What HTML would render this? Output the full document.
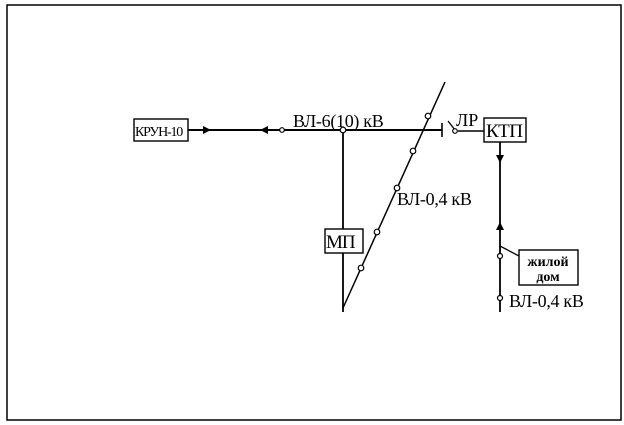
<!DOCTYPE html>
<html><head><meta charset="utf-8"><style>
html,body{margin:0;padding:0;background:#fff;width:624px;height:425px;overflow:hidden}
svg{display:block}
text{font-family:"Liberation Serif",serif;fill:#000}
</style></head><body>
<svg width="624" height="425" viewBox="0 0 624 425" xmlns="http://www.w3.org/2000/svg">
<rect x="7" y="5" width="614" height="415" fill="none" stroke="#000" stroke-width="1.5"/>
<g stroke="#000" fill="none" stroke-width="1.6">
<rect x="134" y="119" width="54" height="22" stroke-width="1.4"/>
<line x1="188" y1="130" x2="442" y2="130" stroke-width="2"/>
<line x1="442" y1="123" x2="442" y2="137"/>
<line x1="448" y1="121" x2="455" y2="130" stroke-width="1.3"/>
<line x1="458" y1="131" x2="484" y2="131"/>
<rect x="484" y="118" width="42" height="24" stroke-width="1.4"/>
<line x1="343" y1="130" x2="343" y2="312" stroke-width="1.8"/>
<line x1="343" y1="308" x2="445" y2="82" stroke-width="1.5"/>
<rect x="325" y="229" width="38" height="24" fill="#fff" stroke-width="1.4"/>
<line x1="500" y1="142" x2="500" y2="312" stroke-width="1.8"/>
<line x1="500" y1="246" x2="519" y2="256" stroke-width="1.3"/>
<rect x="519" y="250" width="59" height="35" stroke-width="1.4"/>
</g>
<g fill="#000">
<polygon points="203,126 211,130 203,134"/>
<polygon points="268,126 260,130 268,134"/>
<polygon points="496,155 504,155 500,163"/>
<polygon points="496,230 504,230 500,222"/>
</g>
<g fill="#fff" stroke="#000" stroke-width="1.2">
<circle cx="282" cy="130" r="2.3"/>
<circle cx="343" cy="130" r="2.8"/>
<circle cx="455" cy="131" r="2.3"/>
<circle cx="428" cy="116" r="2.8"/>
<circle cx="413" cy="151" r="2.8"/>
<circle cx="397" cy="188" r="2.8"/>
<circle cx="377" cy="232" r="2.8"/>
<circle cx="361" cy="268" r="2.8"/>
<circle cx="500" cy="256" r="2.5"/>
<circle cx="500" cy="298" r="2.5"/>
</g>
<text x="135" y="136" font-size="14" letter-spacing="-1.2">КРУН-10</text>
<text x="293" y="127" font-size="18" letter-spacing="-0.3">ВЛ-6(10) кВ</text>
<text x="456" y="126" font-size="18">ЛР</text>
<text x="486" y="137" font-size="19" letter-spacing="-0.5">КТП</text>
<text x="326" y="248" font-size="19" letter-spacing="-1">МП</text>
<text x="397" y="205" font-size="18" letter-spacing="-0.3">ВЛ-0,4 кВ</text>
<text x="548" y="266" font-size="14" text-anchor="middle" font-weight="bold">жилой</text>
<text x="548" y="281" font-size="14" text-anchor="middle" font-weight="bold">дом</text>
<text x="509" y="307" font-size="18" letter-spacing="-0.3">ВЛ-0,4 кВ</text>
</svg>
</body></html>
